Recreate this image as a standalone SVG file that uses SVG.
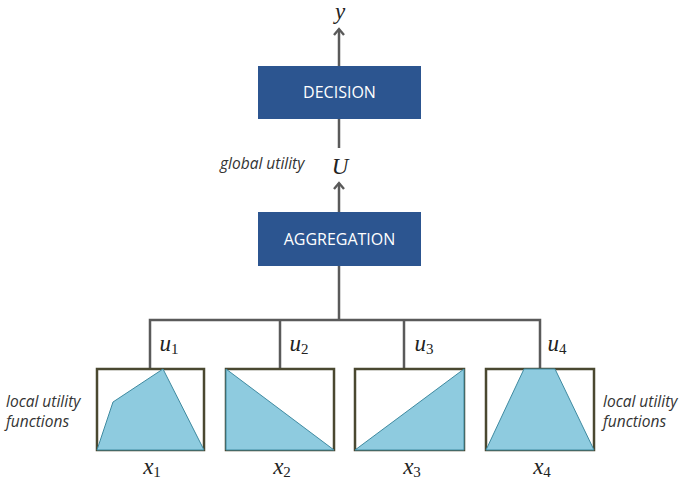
<svg xmlns="http://www.w3.org/2000/svg" width="685" height="480" viewBox="0 0 685 480">
  <style>
    .block { fill: #2c5590; }
    .block-label { fill: #ffffff; font-family: "Open Sans", "Liberation Sans", sans-serif; font-size: 16px; text-anchor: middle; }
    .wire { fill: none; stroke: #5a5a5a; stroke-width: 2.5; }
    .frame { fill: #ffffff; stroke: #4a4830; stroke-width: 2.5; }
    .curve { fill: #8ecbdf; stroke: #3f8aa0; stroke-width: 1; }
    .math { font-family: "Liberation Serif", "DejaVu Serif", serif; font-style: italic; font-size: 23px; fill: #222; text-anchor: middle; }
    .sub { font-style: normal; font-size: 15px; }
    .note { font-family: "Open Sans", "Liberation Sans", sans-serif; font-style: italic; font-size: 15.5px; fill: #333; }
  </style>
  <defs>
    <marker id="head" viewBox="0 0 12 12" refX="10" refY="6" markerWidth="12" markerHeight="12" markerUnits="userSpaceOnUse" orient="auto">
      <polyline points="4,1 10,6 4,11" fill="none" stroke="#5a5a5a" stroke-width="2.4"/>
    </marker>
  </defs>

  <g id="connectors">
    <line class="wire" x1="339" y1="66" x2="339" y2="29" marker-end="url(#head)"/>
    <line class="wire" x1="339" y1="119" x2="339" y2="148"/>
    <line class="wire" x1="339" y1="212" x2="339" y2="183" marker-end="url(#head)"/>
    <line class="wire" x1="339" y1="266" x2="339" y2="320"/>
    <polyline class="wire" points="150,369 150,320 540,320 540,369"/>
    <line class="wire" x1="280" y1="320" x2="280" y2="369"/>
    <line class="wire" x1="404" y1="320" x2="404" y2="369"/>
  </g>

  <g id="output-y">
    <text class="math" x="340" y="19">y</text>
  </g>

  <g id="decision">
    <rect class="block" x="258" y="66" width="163" height="53"/>
    <text class="block-label" x="339.5" y="98">DECISION</text>
  </g>

  <g id="global-utility">
    <text class="note" x="220" y="169">global utility</text>
    <text class="math" x="340" y="174">U</text>
  </g>

  <g id="aggregation">
    <rect class="block" x="258" y="212" width="163" height="54"/>
    <text class="block-label" x="339.5" y="244.5">AGGREGATION</text>
  </g>

  <g id="utility-labels">
    <text class="math" x="169" y="351">u<tspan class="sub" dy="3">1</tspan></text>
    <text class="math" x="299" y="351">u<tspan class="sub" dy="3">2</tspan></text>
    <text class="math" x="424" y="351">u<tspan class="sub" dy="3">3</tspan></text>
    <text class="math" x="557" y="351">u<tspan class="sub" dy="3">4</tspan></text>
  </g>

  <g id="local-1">
    <rect class="frame" x="97" y="369" width="107" height="81"/>
    <polygon class="curve" points="97,450 113,402 163,369 204,450"/>
    <text class="math" x="152" y="474">x<tspan class="sub" dy="3">1</tspan></text>
  </g>

  <g id="local-2">
    <rect class="frame" x="226" y="369" width="108" height="81"/>
    <polygon class="curve" points="226,369 334,450 226,450"/>
    <text class="math" x="282" y="474">x<tspan class="sub" dy="3">2</tspan></text>
  </g>

  <g id="local-3">
    <rect class="frame" x="355" y="369" width="109" height="81"/>
    <polygon class="curve" points="355,450 464,369 464,450"/>
    <text class="math" x="412" y="474">x<tspan class="sub" dy="3">3</tspan></text>
  </g>

  <g id="local-4">
    <rect class="frame" x="486" y="369" width="108" height="81"/>
    <polygon class="curve" points="486,450 524,369 555,369 594,450"/>
    <text class="math" x="542" y="474">x<tspan class="sub" dy="3">4</tspan></text>
  </g>

  <g id="local-notes">
    <text class="note" x="6" y="407">local utility</text>
    <text class="note" x="6" y="427">functions</text>
    <text class="note" x="603" y="407">local utility</text>
    <text class="note" x="603" y="427">functions</text>
  </g>
</svg>
